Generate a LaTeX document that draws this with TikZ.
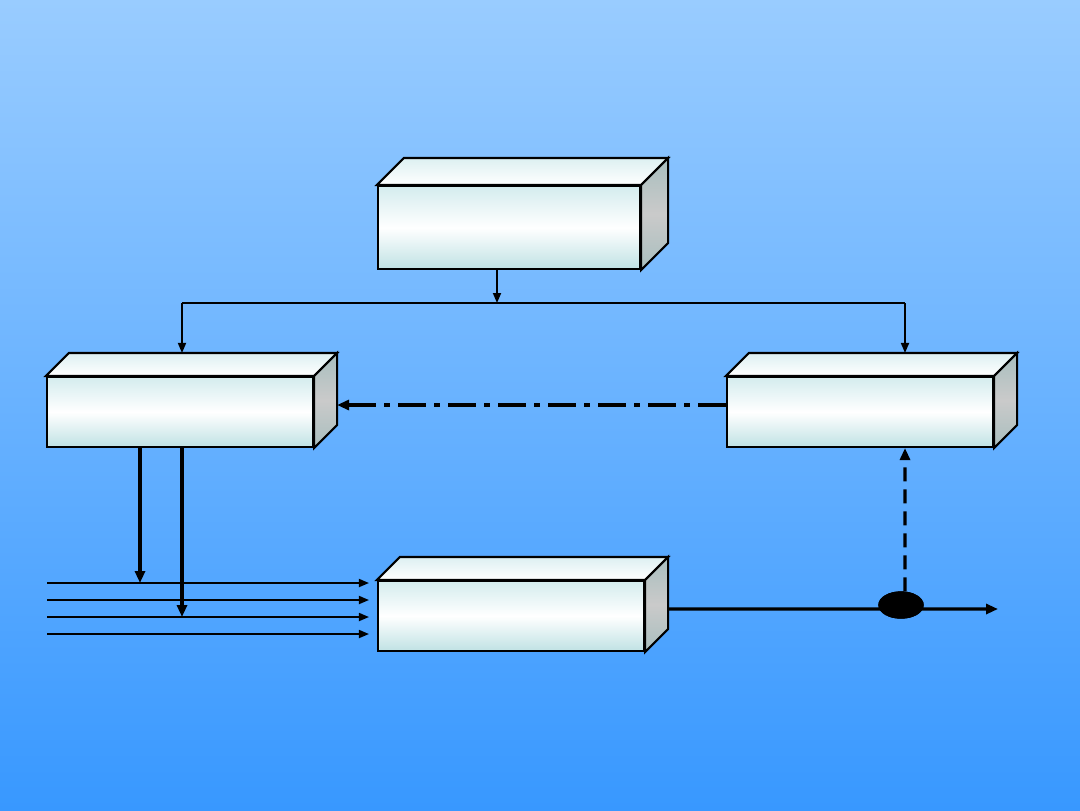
\documentclass[tikz,border=0pt]{standalone}
\usepackage{tikz}
\usetikzlibrary{arrows.meta,positioning,calc,shapes.geometric}
\definecolor{skytop}{RGB}{153,204,255}
\definecolor{skybottom}{RGB}{56,152,255}
\definecolor{faceedge}{RGB}{192,226,228}
\definecolor{facetop}{RGB}{212,236,238}
\definecolor{sidegrey}{RGB}{202,202,202}
\definecolor{sidedark}{RGB}{168,190,190}
\tikzset{
  block/.style={rectangle, draw=black, line width=0.6pt, inner sep=0pt, minimum width=2.66cm, minimum height=0.70cm,
    shading=axis, top color=facetop, bottom color=faceedge, middle color=white},
  topface/.style={draw=black, line width=0.6pt, shading=axis, top color=facetop!80!white, bottom color=white},
  sideface/.style={draw=black, line width=0.6pt, shading=axis, top color=sidedark, bottom color=sidedark, middle color=sidegrey},
  arr/.style={-{Triangle[length=1mm,width=0.8mm]}, line width=0.5pt, draw=black},
  arrb/.style={-{Triangle[length=1.2mm,width=1mm]}, line width=0.9pt, draw=black},
  dashdot/.style={arrb, dash pattern=on 2.8mm off 0.8mm on 0.6mm off 0.8mm},
  dashline/.style={arrb, dash pattern=on 1.4mm off 0.8mm},
  tap/.style={ellipse, fill=black, draw=black, minimum width=0.44cm, minimum height=0.26cm, inner sep=0pt},
}
\begin{document}
\begin{tikzpicture}
  \fill[top color=skytop, bottom color=skybottom] (0,0) rectangle (10.8,8.1);
  \useasboundingbox (0,0) rectangle (10.8,8.1);
  \node[block,minimum width=2.62cm,minimum height=0.83cm] (top) at (5.09,5.825) {};
  \node[block] (left) at (1.80,3.98) {};
  \node[block] (right) at (8.60,3.98) {};
  \node[block] (bottom) at (5.11,1.94) {};
  \foreach \n/\d in {top/0.27,left/0.23,right/0.23,bottom/0.23}{
    \draw[topface] (\n.north west) -- ++(\d,\d) -- ([shift={(\d,\d)}]\n.north east) -- (\n.north east) -- cycle;
    \draw[sideface] (\n.north east) -- ++(\d,\d) -- ([shift={(\d,\d)}]\n.south east) -- (\n.south east) -- cycle;
  }
  \coordinate (bus) at (4.97,5.07);
  \coordinate (busL) at (1.82,5.07);
  \coordinate (busR) at (9.05,5.07);
  \draw[arr] ([xshift=-0.12cm]top.south) -- (bus);
  \draw[line width=0.5pt] (busL) -- (busR);
  \draw[arr] (busL) -- ([shift={(0.02,0.23)}]left.north);
  \draw[arr] (busR) -- ([shift={(0.45,0.23)}]right.north);
  \draw[dashdot] ([yshift=0.07cm]right.west) -- ([shift={(0.23,0.07)}]left.east);
  \foreach \i/\y in {1/2.27,2/2.10,3/1.93,4/1.76}{
    \coordinate (in\i) at (0.47,\y);
    \draw[arr,shorten >=0.08cm] (in\i) -- (in\i -| bottom.west);
  }
  \draw[arrb] ([xshift=-0.40cm]left.south) -- ([xshift=-0.40cm]left.south |- in1);
  \draw[arrb] ([xshift=0.02cm]left.south) -- ([xshift=0.02cm]left.south |- in3);
  \node[tap] (split) at (9.01,2.05) {};
  \coordinate (out) at (9.98,2.01);
  \draw[arrb] ([shift={(0.23,0.07)}]bottom.east) -- (out);
  \node[tap] at (split) {};
  \draw[dashline] ([xshift=0.04cm]split.north) -- ([xshift=0.45cm]right.south);
\end{tikzpicture}
\end{document}
